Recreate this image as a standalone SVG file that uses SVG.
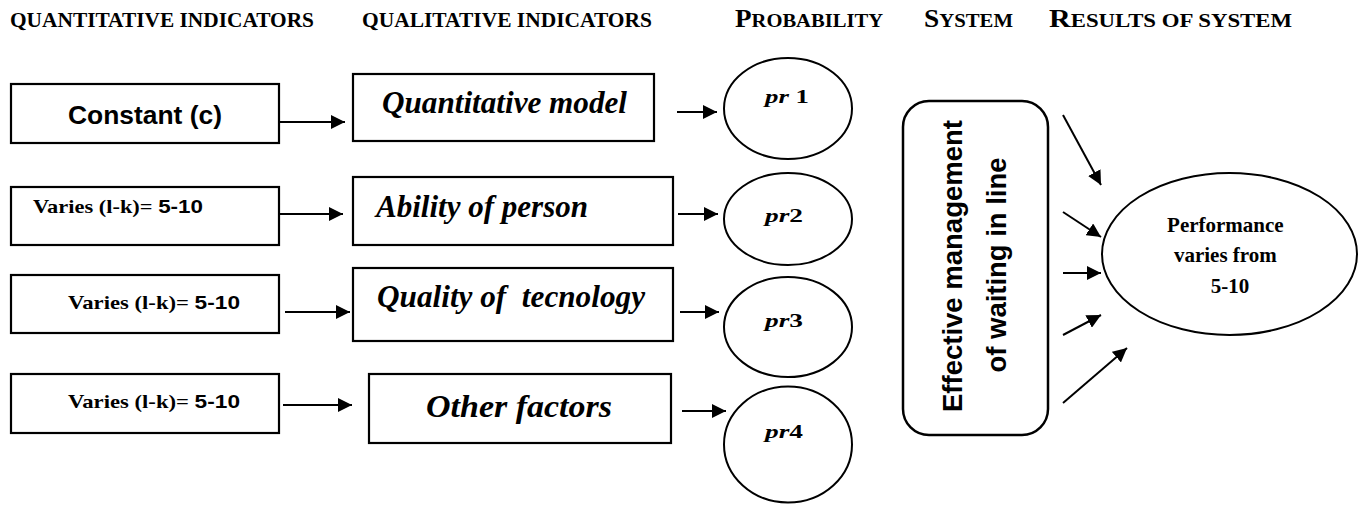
<svg xmlns="http://www.w3.org/2000/svg" width="1362" height="506" viewBox="0 0 1362 506">
<style>
.box{fill:#fff;stroke:#000;stroke-width:2.2}
.ell{fill:#fff;stroke:#000;stroke-width:2}
.con{stroke:#000;stroke-width:2;fill:none;marker-end:url(#ah)}
</style>
<defs>
<marker id="ah" markerUnits="userSpaceOnUse" markerWidth="15" markerHeight="14" refX="14" refY="7" orient="auto">
<path d="M0,0 L14,7 L0,14 z" fill="#000"/>
</marker>
</defs>
<rect width="1362" height="506" fill="#fff"/>
<g id="headers" font-family="Liberation Serif" font-weight="bold" fill="#000">
<text x="10" y="27" font-size="21" textLength="304" lengthAdjust="spacingAndGlyphs">QUANTITATIVE INDICATORS</text>
<text x="362" y="27" font-size="21" textLength="290" lengthAdjust="spacingAndGlyphs">QUALITATIVE INDICATORS</text>
<text x="735" y="27" textLength="148" lengthAdjust="spacingAndGlyphs"><tspan font-size="25">P</tspan><tspan font-size="19">ROBABILITY</tspan></text>
<text x="924" y="27" textLength="89" lengthAdjust="spacingAndGlyphs"><tspan font-size="25">S</tspan><tspan font-size="19">YSTEM</tspan></text>
<text x="1049" y="27" textLength="243" lengthAdjust="spacingAndGlyphs"><tspan font-size="25">R</tspan><tspan font-size="19">ESULTS OF SYSTEM</tspan></text>
</g>
<g id="q1">
<rect class="box" x="11" y="84" width="268" height="59"/>
<text x="68" y="124" font-family="Liberation Sans" font-weight="bold" font-size="26" textLength="154" lengthAdjust="spacingAndGlyphs">Constant (c)</text>
</g>
<g id="q2">
<rect class="box" x="11" y="187" width="268" height="58"/>
<text x="33" y="213" font-family="Liberation Serif" font-weight="bold" font-size="19" textLength="170" lengthAdjust="spacingAndGlyphs">Varies (l-k)= <tspan font-family="Liberation Sans">5-10</tspan></text>
</g>
<g id="q3">
<rect class="box" x="11" y="275" width="268" height="58"/>
<text x="68" y="309" font-family="Liberation Serif" font-weight="bold" font-size="19" textLength="172" lengthAdjust="spacingAndGlyphs">Varies (l-k)= <tspan font-family="Liberation Sans">5-10</tspan></text>
</g>
<g id="q4">
<rect class="box" x="11" y="374" width="268" height="59"/>
<text x="68" y="408" font-family="Liberation Serif" font-weight="bold" font-size="19" textLength="172" lengthAdjust="spacingAndGlyphs">Varies (l-k)= <tspan font-family="Liberation Sans">5-10</tspan></text>
</g>
<g id="m1">
<rect class="box" x="353" y="74" width="301" height="67"/>
<text x="382" y="113" font-family="Liberation Serif" font-weight="bold" font-style="italic" font-size="32" textLength="245" lengthAdjust="spacingAndGlyphs">Quantitative model</text>
</g>
<g id="m2">
<rect class="box" x="353" y="177" width="320" height="68"/>
<text x="376" y="217" font-family="Liberation Serif" font-weight="bold" font-style="italic" font-size="32" textLength="212" lengthAdjust="spacingAndGlyphs">Ability of person</text>
</g>
<g id="m3">
<rect class="box" x="353" y="268" width="320" height="73"/>
<text x="377" y="307" font-family="Liberation Serif" font-weight="bold" font-style="italic" font-size="32" textLength="268" lengthAdjust="spacingAndGlyphs" xml:space="preserve">Quality of  tecnology</text>
</g>
<g id="m4">
<rect class="box" x="369" y="374" width="302" height="69"/>
<text x="426" y="417" font-family="Liberation Serif" font-weight="bold" font-style="italic" font-size="32" textLength="186" lengthAdjust="spacingAndGlyphs">Other factors</text>
</g>
<g id="p1">
<ellipse class="ell" cx="788" cy="108.5" rx="64" ry="50.5"/>
<text x="765" y="103" font-family="Liberation Serif" font-weight="bold" font-size="19" textLength="44" lengthAdjust="spacingAndGlyphs"><tspan font-style="italic">pr</tspan> 1</text>
</g>
<g id="p2">
<ellipse class="ell" cx="788" cy="219" rx="64" ry="46"/>
<text x="765" y="222" font-family="Liberation Serif" font-weight="bold" font-size="19" textLength="38" lengthAdjust="spacingAndGlyphs"><tspan font-style="italic">pr</tspan>2</text>
</g>
<g id="p3">
<ellipse class="ell" cx="788" cy="327" rx="64" ry="50"/>
<text x="765" y="327" font-family="Liberation Serif" font-weight="bold" font-size="19" textLength="38" lengthAdjust="spacingAndGlyphs"><tspan font-style="italic">pr</tspan>3</text>
</g>
<g id="p4">
<ellipse class="ell" cx="788" cy="444.5" rx="64" ry="58"/>
<text x="765" y="438" font-family="Liberation Serif" font-weight="bold" font-size="19" textLength="38" lengthAdjust="spacingAndGlyphs"><tspan font-style="italic">pr</tspan>4</text>
</g>
<g id="system">
<rect x="903" y="101" width="145" height="334" rx="26" ry="26" fill="#fff" stroke="#000" stroke-width="2.5"/>
<text transform="translate(962,266) rotate(-90)" text-anchor="middle" font-family="Liberation Sans" font-weight="bold" font-size="27" textLength="292" lengthAdjust="spacingAndGlyphs">Effective management</text>
<text transform="translate(1006,265) rotate(-90)" text-anchor="middle" font-family="Liberation Sans" font-weight="bold" font-size="27" textLength="215" lengthAdjust="spacingAndGlyphs">of waiting in line</text>
</g>
<g id="result">
<ellipse class="ell" cx="1229.5" cy="254" rx="127.5" ry="81"/>
<text font-family="Liberation Serif" font-weight="bold" font-size="21" text-anchor="middle">
<tspan x="1228" y="232">Performance</tspan>
<tspan x="1228" y="262">varies from</tspan>
<tspan x="1230" y="293">5-10</tspan>
</text>
</g>
<g id="connectors">
<line class="con" x1="279" y1="122" x2="345" y2="122"/>
<line class="con" x1="279" y1="214" x2="343" y2="214"/>
<line class="con" x1="285" y1="312" x2="350" y2="312"/>
<line class="con" x1="283" y1="405" x2="352" y2="405"/>
<line class="con" x1="677" y1="112" x2="717" y2="112"/>
<line class="con" x1="678" y1="214" x2="718" y2="214"/>
<line class="con" x1="680" y1="312" x2="719" y2="312"/>
<line class="con" x1="682" y1="411" x2="726" y2="411"/>
<line class="con" x1="1063" y1="115" x2="1101" y2="185"/>
<line class="con" x1="1063" y1="212" x2="1101" y2="237"/>
<line class="con" x1="1063" y1="273" x2="1101" y2="273"/>
<line class="con" x1="1063" y1="335" x2="1101" y2="315"/>
<line class="con" x1="1063" y1="403" x2="1127" y2="348"/>
</g>
</svg>
